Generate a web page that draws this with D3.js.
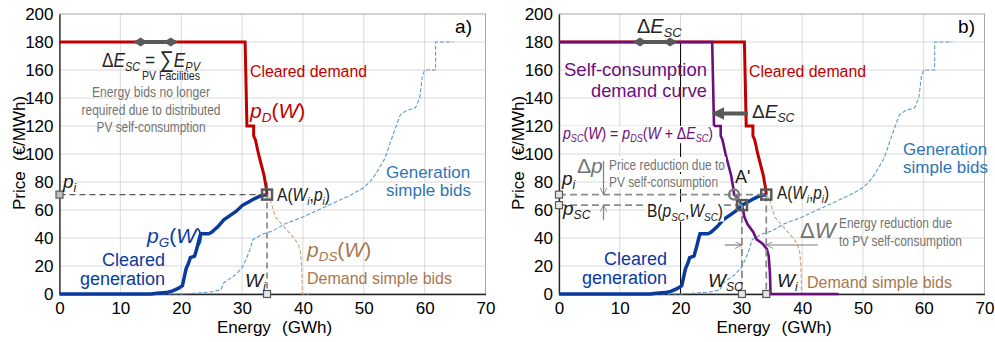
<!DOCTYPE html>
<html>
<head>
<meta charset="utf-8">
<script src="https://cdn.jsdelivr.net/npm/d3@7"></script>
<style>
  body { margin: 0; background: #fff; }
  text { font-family: "Liberation Sans", Arial, sans-serif; }
</style>
</head>
<body>
<svg id="chart" width="995" height="342"></svg>
<script>
// ---- data (energy in GWh, price in EUR/MWh) ----
var energyTicks = [0, 10, 20, 30, 40, 50, 60, 70];
var priceTicks = [0, 20, 40, 60, 80, 100, 120, 140, 160, 180, 200];

var clearedDemand = [[0, 180], [30.5, 180], [30.8, 120], [31.9, 120], [31.9, 113], [32.2, 110],
  [32.7, 100], [33.0, 95], [33.3, 90], [33.6, 85], [33.8, 80], [34.0, 75], [34.1, 71]];

var clearedGeneration = [[0, 0], [15, 0], [16, 0.5], [17.5, 1], [18.5, 2], [19.5, 4], [20.2, 6],
  [20.5, 12], [20.8, 18], [21.2, 22], [21.5, 26], [22.2, 27], [22.6, 33], [23.0, 40], [23.2, 43],
  [24.5, 43], [25, 44], [26, 48], [27, 53], [28, 56], [29, 59], [30.1, 63.5], [31, 65.5],
  [32, 68], [33, 70], [34.1, 71]];

var generationBids = [[0, 0], [20, 0], [22, 0.5], [25, 1.5], [26.5, 3], [27, 8], [28, 11], [29, 14],
  [30, 19], [30.7, 25], [31.3, 32], [31.8, 39], [33.5, 43], [35, 45], [37, 50], [40, 55], [43, 61],
  [46, 67], [48, 71], [50, 76], [51, 80], [52, 86], [52.8, 92], [53.5, 97], [54.5, 110], [55, 116],
  [56, 128], [57, 131], [58.5, 133], [59.2, 140], [59.6, 155], [60, 160], [61.8, 160], [61.8, 180],
  [64.7, 180]];

var demandBids = [[34.1, 71], [34.5, 69], [35, 62], [35.5, 55], [36.5, 50], [37.5, 45], [38.5, 40],
  [39.2, 36], [39.6, 30], [39.8, 20], [39.9, 0], [41, 0]];

var selfConsumptionDemand = [[0, 180], [25.2, 180], [25.5, 120], [26.6, 120], [26.6, 113],
  [26.9, 110], [27.4, 100], [27.7, 95], [28.0, 90], [28.3, 85], [28.5, 80], [28.7, 75], [28.8, 71],
  [29.3, 69], [29.7, 66], [30.1, 63.5], [30.5, 55], [31, 50], [32, 44], [32.5, 39], [33.5, 36],
  [34.2, 32], [34.5, 27], [34.7, 15], [34.8, 0], [46, 0]];

var pointA = [34.1, 71];       // (Wi, pi)
var pointB = [30.1, 63.5];     // (Wsc, psc)
var pointA2 = [28.8, 71];      // A'
var deltaEsc = [12.5, 19.1];   // span of the dE_SC marker on the 180 line
var dEscArrow = [31.1, 25.3, 129];
var dWLevel = 35;

var svg = d3.select("#chart");
var y = d3.scaleLinear().domain([0, 200]).range([294, 14]);

var defs = svg.append("defs");
defs.append("marker").attr("id", "solidHead").attr("viewBox", "0 0 10 10")
  .attr("refX", 9).attr("refY", 5).attr("markerWidth", 3.2).attr("markerHeight", 3.2)
  .attr("markerUnits", "strokeWidth").attr("orient", "auto")
  .append("path").attr("d", "M0,0L10,5L0,10z").attr("fill", "#595959");
defs.append("marker").attr("id", "openHead").attr("viewBox", "0 0 10 10")
  .attr("refX", 10).attr("refY", 5).attr("markerWidth", 9).attr("markerHeight", 7)
  .attr("markerUnits", "userSpaceOnUse").attr("orient", "auto")
  .append("path").attr("d", "M0,0L10,5L0,10").attr("fill", "none")
  .attr("stroke", "#7f7f7f").attr("stroke-width", 1.2);

// text with italic / subscript pieces: [text, flag] flag: "i" italic, "s" italic subscript
function rich(g, x, yy, parts, o) {
  o = o || {};
  var size = o.size || 17;
  var t = g.append("text").attr("x", x).attr("y", yy)
    .attr("font-size", size).attr("fill", o.color || "#1a1a1a")
    .attr("text-anchor", o.anchor || "start");
  if (o.len) t.attr("textLength", o.len).attr("lengthAdjust", "spacingAndGlyphs");
  var shift = 0;
  parts.forEach(function (p) {
    if (typeof p === "string") p = [p];
    var s = t.append("tspan").text(p[0]);
    if (p[1] === "i" || p[1] === "s") s.attr("font-style", "italic");
    var target = p[1] === "s" ? size * 0.2 : 0;
    if (target !== shift) { s.attr("dy", target - shift); shift = target; }
    if (p[1] === "s") s.attr("font-size", size * 0.64);
    if (p[2]) s.attr("font-size", p[2]);
  });
  if (o.bg) {
    var b = t.node().getBBox();
    g.insert("rect", function () { return t.node(); })
      .attr("x", b.x - 1).attr("y", b.y + 1).attr("width", b.width + 2).attr("height", b.height - 2)
      .attr("fill", "#fff");
  }
  return t;
}

function square(g, px, py, s, sw, stroke, fill) {
  g.append("rect").attr("x", px - s / 2).attr("y", py - s / 2).attr("width", s).attr("height", s)
    .attr("fill", fill).attr("stroke", stroke).attr("stroke-width", sw);
}

function diamondArrow(g, x) {
  var yy = y(180);
  g.append("line").attr("x1", x(deltaEsc[0])).attr("x2", x(deltaEsc[1]))
    .attr("y1", yy).attr("y2", yy).attr("stroke", "#595959").attr("stroke-width", 4);
  [x(deltaEsc[0]) + 5, x(deltaEsc[1]) - 5].forEach(function (cx) {
    g.append("path").attr("d", "M" + (cx - 7) + "," + yy + "L" + cx + "," + (yy - 4.5) + "L" + (cx + 7) + "," + yy + "L" + cx + "," + (yy + 4.5) + "Z")
      .attr("fill", "#595959");
  });
}

function panel(x0, x1) {
  var x = d3.scaleLinear().domain([0, 70]).range([x0, x1]);
  var g = svg.append("g");
  var grid = g.append("g").attr("stroke", "#d9d9d9").attr("stroke-width", 1);
  grid.selectAll(".gx").data(energyTicks.slice(1, -1)).enter().append("line")
    .attr("x1", function (d) { return x(d); }).attr("x2", function (d) { return x(d); })
    .attr("y1", y(0)).attr("y2", y(200));
  grid.selectAll(".gy").data(priceTicks.slice(1, -1)).enter().append("line")
    .attr("y1", function (d) { return y(d); }).attr("y2", function (d) { return y(d); })
    .attr("x1", x(0)).attr("x2", x(70));
  g.append("rect").attr("x", x(0)).attr("y", y(200)).attr("width", x(70) - x(0))
    .attr("height", y(0) - y(200)).attr("fill", "none").attr("stroke", "#a6a6a6").attr("stroke-width", 1);

  var ax = g.append("g").attr("transform", "translate(0," + y(0) + ")")
    .call(d3.axisBottom(x).tickValues(energyTicks).tickSize(0).tickPadding(8));
  var ay = g.append("g").attr("transform", "translate(" + x(0) + ",0)")
    .call(d3.axisLeft(y).tickValues(priceTicks).tickSize(0).tickPadding(6));
  [ax, ay].forEach(function (a) {
    a.selectAll("text").attr("font-size", 17).attr("fill", "#000")
      .attr("font-family", "Liberation Sans, Arial, sans-serif");
    a.select(".domain").attr("stroke", "#262626").attr("stroke-width", 1.3);
  });

  g.append("text").attr("x", x0 + 157.5).attr("y", 333).attr("font-size", 17).text("Energy");
  g.append("text").attr("x", x0 + 222.5).attr("y", 333).attr("font-size", 17).text("(GWh)");
  g.append("text").attr("transform", "translate(" + (x0 - 35) + ",210) rotate(-90)")
    .attr("font-size", 17).text("Price");
  g.append("text").attr("transform", "translate(" + (x0 - 35) + ",161) rotate(-90)")
    .attr("font-size", 17).text("(€/MWh)");

  return { g: g, x: x };
}

function lineOf(x) {
  return d3.line().x(function (d) { return x(d[0]); }).y(function (d) { return y(d[1]); });
}

function baseCurves(p) {
  var g = p.g, x = p.x, line = lineOf(x);
  g.append("path").attr("d", line(generationBids)).attr("fill", "none")
    .attr("stroke", "#5b9bd5").attr("stroke-width", 1.1).attr("stroke-dasharray", "4,2");
  g.append("path").attr("d", line(demandBids)).attr("fill", "none")
    .attr("stroke", "#c9a27e").attr("stroke-width", 1.1).attr("stroke-dasharray", "4,2");
  g.append("path").attr("d", line(clearedDemand)).attr("fill", "none")
    .attr("stroke", "#c00000").attr("stroke-width", 3);
}

var grey = "#737373";

// ---------------- panel a ----------------
var pa = panel(59.5, 485.5);
(function () {
  var g = pa.g, x = pa.x, line = lineOf(x);
  baseCurves(pa);
  g.append("path").attr("d", line(clearedGeneration)).attr("fill", "none")
    .attr("stroke", "#0a3a9e").attr("stroke-width", 3.5);

  // guide lines to A
  g.append("line").attr("x1", x(0)).attr("x2", x(pointA[0])).attr("y1", y(pointA[1])).attr("y2", y(pointA[1]))
    .attr("stroke", "#595959").attr("stroke-width", 1.2).attr("stroke-dasharray", "6,4");
  g.append("line").attr("x1", x(pointA[0])).attr("x2", x(pointA[0])).attr("y1", y(pointA[1]) - 12).attr("y2", y(0))
    .attr("stroke", "#595959").attr("stroke-width", 1.2).attr("stroke-dasharray", "6,4");
  square(g, x(0), y(pointA[1]), 7, 1.2, "#595959", "#bfbfbf");
  square(g, x(pointA[0]), y(0), 7, 1.2, "#595959", "#e6e6e6");
  square(g, x(pointA[0]), y(pointA[1]), 10, 2.5, "#595959", "none");

  diamondArrow(g, x);

  rich(g, 472, 33, ["a)"], { size: 19, anchor: "end", color: "#000" });
  rich(g, 102, 67, [["Δ"], ["E", "i"], ["SC", "s"], [" = "], ["∑", "", 23], ["E", "i"], ["PV", "s"]],
    { size: 20, color: "#262626", len: 98 });
  rich(g, 142, 80, ["PV Facilities"], { size: 12, color: "#262626", len: 58 });
  [["Energy bids no longer", 118], ["required due to distributed", 139], ["PV self-consumption", 109]].forEach(function (s, i) {
    rich(g, 151, 97 + i * 17.5, [s[0]], { size: 15, anchor: "middle", color: grey, len: s[1] });
  });
  rich(g, 250, 77, ["Cleared demand"], { size: 16, color: "#c00000", len: 117 });
  rich(g, 250, 118, [["p", "i"], ["D", "s"], ["("], ["W", "i"], [")"]], { size: 21, color: "#c00000" });
  rich(g, 63, 188, [["p", "i"], ["i", "s"]], { size: 19 });
  rich(g, 277, 201, [["A("], ["W", "i"], ["i", "s"], [","], ["p", "i"], ["i", "s"], [")"]], { size: 18, len: 53 });
  rich(g, 245, 287, [["W", "i"], ["i", "s"]], { size: 19 });
  rich(g, 147, 243, [["p", "i"], ["G", "s"], ["("], ["W", "i"], [")"]], { size: 21, color: "#0a3a9e" });
  rich(g, 165, 266, ["Cleared"], { size: 18, anchor: "end", color: "#0a3a9e" });
  rich(g, 165, 285, ["generation"], { size: 18, anchor: "end", color: "#0a3a9e" });
  rich(g, 386, 178, ["Generation"], { size: 17, color: "#2e75b6" });
  rich(g, 386, 196, ["simple bids"], { size: 17, color: "#2e75b6" });
  rich(g, 307, 257, [["p", "i"], ["DS", "s"], ["("], ["W", "i"], [")"]], { size: 21, color: "#a9784d" });
  rich(g, 307, 284, ["Demand simple bids"], { size: 17, color: "#a9784d", len: 145 });
})();

// ---------------- panel b ----------------
var pb = panel(559, 984.5);
(function () {
  var g = pb.g, x = pb.x, line = lineOf(x);
  // self-consumption reference line at 20 GWh
  g.append("line").attr("x1", x(20)).attr("x2", x(20)).attr("y1", y(180)).attr("y2", y(0))
    .attr("stroke", "#000").attr("stroke-width", 1);
  baseCurves(pb);
  g.append("path").attr("d", line(selfConsumptionDemand)).attr("fill", "none")
    .attr("stroke", "#6a0f7e").attr("stroke-width", 2.6);
  g.append("path").attr("d", line(clearedGeneration)).attr("fill", "none")
    .attr("stroke", "#0a3a9e").attr("stroke-width", 3.5);
  g.append("line").attr("x1", x(pointA2[0])).attr("y1", y(pointA2[1])).attr("x2", x(pointB[0])).attr("y2", y(pointB[1]))
    .attr("stroke", "#1a8a3a").attr("stroke-width", 1.5);

  function guide(xa, xb, ya, yb) {
    g.append("line").attr("x1", xa).attr("x2", xb).attr("y1", ya).attr("y2", yb)
      .attr("stroke", "#8c8c8c").attr("stroke-width", 1.8).attr("stroke-dasharray", "7,4");
  }
  guide(x(0), x(pointA[0]), y(pointA[1]), y(pointA[1]));
  guide(x(0), x(pointB[0]), y(pointB[1]), y(pointB[1]));
  guide(x(pointA[0]), x(pointA[0]), y(pointA[1]), y(0));
  guide(x(pointB[0]), x(pointB[0]), y(pointB[1]), y(0));

  square(g, x(0), y(pointA[1]), 7, 1.2, "#595959", "#e6e6e6");
  square(g, x(0), y(pointB[1]), 7, 1.2, "#595959", "#e6e6e6");
  square(g, x(pointA[0]), y(0), 7, 1.2, "#595959", "#e6e6e6");
  square(g, x(pointB[0]), y(0), 7, 1.2, "#595959", "#e6e6e6");
  square(g, x(pointA[0]), y(pointA[1]), 10, 2.5, "#595959", "none");
  square(g, x(pointB[0]), y(pointB[1]), 10, 2.5, "#595959", "none");
  g.append("circle").attr("cx", x(pointA2[0])).attr("cy", y(pointA2[1])).attr("r", 5)
    .attr("fill", "none").attr("stroke", "#7f7f7f").attr("stroke-width", 2.5);

  diamondArrow(g, x);

  // dE_SC shift arrow
  g.append("line").attr("x1", x(dEscArrow[0])).attr("x2", x(dEscArrow[1]))
    .attr("y1", y(dEscArrow[2])).attr("y2", y(dEscArrow[2]))
    .attr("stroke", "#595959").attr("stroke-width", 4).attr("marker-end", "url(#solidHead)");

  // dp arrows
  var ax = 603.5;
  g.append("line").attr("x1", ax).attr("x2", ax).attr("y1", y(95)).attr("y2", y(pointA[1]))
    .attr("stroke", "#7f7f7f").attr("stroke-width", 1.2).attr("marker-end", "url(#openHead)");
  g.append("line").attr("x1", ax).attr("x2", ax).attr("y1", y(53)).attr("y2", y(pointB[1]))
    .attr("stroke", "#7f7f7f").attr("stroke-width", 1.2).attr("marker-end", "url(#openHead)");
  // dW arrows
  g.append("line").attr("x1", x(27.3)).attr("x2", x(pointB[0])).attr("y1", y(dWLevel)).attr("y2", y(dWLevel))
    .attr("stroke", "#7f7f7f").attr("stroke-width", 1.2).attr("marker-end", "url(#openHead)");
  g.append("line").attr("x1", x(42.6)).attr("x2", x(pointA[0])).attr("y1", y(dWLevel)).attr("y2", y(dWLevel))
    .attr("stroke", "#7f7f7f").attr("stroke-width", 1.2).attr("marker-end", "url(#openHead)");

  rich(g, 975, 33, ["b)"], { size: 19, anchor: "end", color: "#000" });
  rich(g, 637, 33, [["Δ"], ["E", "i"], ["SC", "s"]], { size: 20, color: "#262626" });
  rich(g, 707, 76, ["Self-consumption"], { size: 19, anchor: "end", color: "#6a0f7e", len: 143 });
  rich(g, 707, 97, ["demand curve"], { size: 19, anchor: "end", color: "#6a0f7e", len: 116 });
  rich(g, 749, 77, ["Cleared demand"], { size: 16, color: "#c00000", len: 117 });
  rich(g, 752, 118, [["Δ"], ["E", "i"], ["SC", "s"]], { size: 19, color: "#262626" });
  rich(g, 563, 139, [["p", "i"], ["SC", "s"], ["("], ["W", "i"], [") = "], ["p", "i"], ["DS", "s"], ["("], ["W", "i"], [" + Δ"], ["E", "i"], ["SC", "s"], [")"]],
    { size: 16, color: "#6a0f7e", len: 150, bg: true });

  rich(g, 609, 170, ["Price reduction due to"], { size: 15, color: grey, len: 116, bg: true });
  rich(g, 609, 187, ["PV self-consumption"], { size: 15, color: grey, len: 109, bg: true });
  rich(g, 577, 173, [["Δ"], ["p", "i"]], { size: 21, color: grey });
  rich(g, 562, 185, [["p", "i"], ["i", "s"]], { size: 19 });
  rich(g, 563, 215, [["p", "i"], ["SC", "s"]], { size: 19 });
  rich(g, 735, 183, ["A'"], { size: 18 });
  rich(g, 647, 217, [["B("], ["p", "i"], ["SC", "s"], [","], ["W", "i"], ["SC", "s"], [")"]], { size: 18, len: 76, bg: true });
  rich(g, 777, 199, [["A("], ["W", "i"], ["i", "s"], [","], ["p", "i"], ["i", "s"], [")"]], { size: 18, len: 52 });
  rich(g, 800, 238, [["Δ"], ["W", "i"]], { size: 22, color: grey });
  rich(g, 839, 228, ["Energy reduction due"], { size: 15, color: grey, len: 113 });
  rich(g, 839, 246, ["to PV self-consumption"], { size: 15, color: grey, len: 123 });
  rich(g, 667, 265, ["Cleared"], { size: 18, anchor: "end", color: "#0a3a9e" });
  rich(g, 667, 284, ["generation"], { size: 18, anchor: "end", color: "#0a3a9e" });
  rich(g, 708, 287, [["W", "i"], ["SC", "s"]], { size: 19 });
  rich(g, 777, 287, [["W", "i"], ["i", "s"]], { size: 19 });
  rich(g, 807, 288, ["Demand simple bids"], { size: 17, color: "#a9784d", len: 145 });
  rich(g, 903, 155, ["Generation"], { size: 17, color: "#2e75b6" });
  rich(g, 903, 173, ["simple bids"], { size: 17, color: "#2e75b6" });
})();
</script>
</body>
</html>
